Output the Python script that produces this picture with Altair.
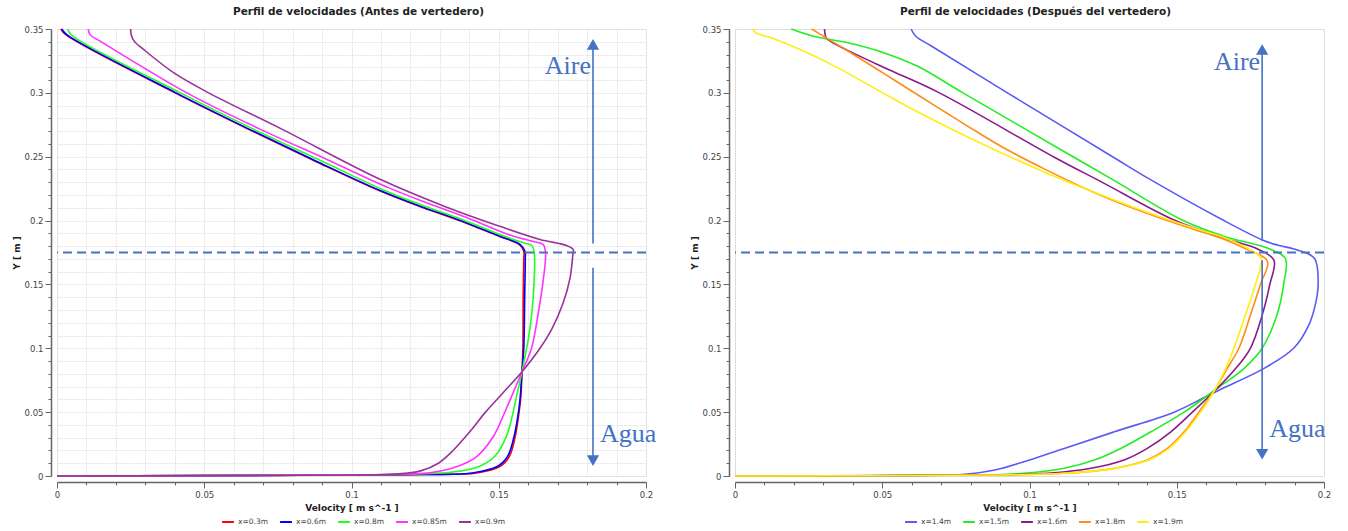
import altair as alt
import pandas as pd

FONT = "DejaVu Sans"
SERIF = "Liberation Serif"
NOTE_BLUE = "#4472c4"

# Axis tick positions
X_MAJOR = [0, 0.05, 0.1, 0.15, 0.2]
X_MINOR = [0, 0.01, 0.02, 0.03, 0.04, 0.05, 0.06, 0.07, 0.08, 0.09, 0.1,
           0.11, 0.12, 0.13, 0.14, 0.15, 0.16, 0.17, 0.18, 0.19, 0.2]
Y_MAJOR = [0, 0.05, 0.1, 0.15, 0.2, 0.25, 0.3, 0.35]
Y_MINOR = [0, 0.01, 0.02, 0.03, 0.04, 0.05, 0.06, 0.07, 0.08, 0.09, 0.1,
           0.11, 0.12, 0.13, 0.14, 0.15, 0.16, 0.17, 0.18, 0.19, 0.2, 0.21,
           0.22, 0.23, 0.24, 0.25, 0.26, 0.27, 0.28, 0.29, 0.3, 0.31, 0.32,
           0.33, 0.34, 0.35]

# Free-surface level
SURFACE_Y = 0.175

# ---------------- Antes de vertedero ----------------
LEFT_LABELS = ["x=0.3m", "x=0.6m", "x=0.8m", "x=0.85m", "x=0.9m"]
LEFT_COLORS = ["#ff0000", "#0000ff", "#22ff22", "#ff33ff", "#993399"]

Y_03 = [0.35, 0.3455, 0.30, 0.2714, 0.2465, 0.2235, 0.2115, 0.2003, 0.1878,
        0.1813, 0.176, 0.170, 0.140, 0.100, 0.0816, 0.062, 0.050, 0.031,
        0.0153, 0.0076, 0.0024, 0.0012, 0.0008, 0.0]
V_03 = [0.0013, 0.0030, 0.0401, 0.0651, 0.0877, 0.1094, 0.1227, 0.1364,
        0.1501, 0.1569, 0.1585, 0.1585, 0.1583, 0.1582, 0.1579, 0.1575,
        0.1569, 0.1556, 0.1536, 0.1505, 0.1425, 0.125, 0.10, 0.0]

Y_06 = [0.35, 0.3455, 0.30, 0.2714, 0.2465, 0.2235, 0.2115, 0.2003, 0.1878,
        0.1813, 0.176, 0.170, 0.140, 0.100, 0.0816, 0.062, 0.050, 0.031,
        0.0153, 0.0076, 0.0024, 0.0012, 0.0008, 0.0]
V_06 = [0.0016, 0.0033, 0.0404, 0.0654, 0.0880, 0.1097, 0.1230, 0.1367,
        0.1504, 0.1572, 0.1589, 0.1590, 0.1588, 0.1585, 0.1579, 0.1573,
        0.1567, 0.1552, 0.1530, 0.1496, 0.1410, 0.122, 0.10, 0.0]

Y_08 = [0.35, 0.3455, 0.30, 0.2714, 0.247, 0.2238, 0.212, 0.2008, 0.1885,
        0.1825, 0.1805, 0.176, 0.140, 0.114, 0.0816, 0.062, 0.050, 0.031,
        0.0153, 0.0077, 0.0031, 0.0012, 0.0008, 0.0]
V_08 = [0.0037, 0.0048, 0.0419, 0.0669, 0.0895, 0.1110, 0.1240, 0.1375,
        0.1510, 0.1585, 0.1612, 0.1620, 0.1617, 0.1605, 0.1579, 0.1560,
        0.1549, 0.1526, 0.1486, 0.1435, 0.1345, 0.115, 0.10, 0.0]

Y_085 = [0.35, 0.3456, 0.3403, 0.30, 0.2714, 0.2475, 0.2258, 0.2135, 0.2015,
         0.1885, 0.1832, 0.1813, 0.1743, 0.1534, 0.1273, 0.0999, 0.0816, 0.062,
         0.0497, 0.0307, 0.015, 0.0072, 0.0025, 0.0012, 0.0008, 0.0]
V_085 = [0.0106, 0.0112, 0.0148, 0.0441, 0.0691, 0.0920, 0.1125, 0.1260,
         0.1400, 0.1540, 0.1625, 0.1651, 0.1659, 0.1651, 0.1634, 0.1611,
         0.1579, 0.1543, 0.1520, 0.1481, 0.1424, 0.1356, 0.1266, 0.11, 0.095,
         0.0]

Y_09 = [0.35, 0.3455, 0.3405, 0.334, 0.3156, 0.30, 0.2714, 0.2323, 0.2105,
        0.1955, 0.1852, 0.1805, 0.1773, 0.1743, 0.155, 0.135, 0.115, 0.10,
        0.0816, 0.065, 0.05, 0.035, 0.02, 0.01, 0.004, 0.0015, 0.0008, 0.0]
V_09 = [0.0250, 0.0252, 0.0262, 0.0294, 0.0397, 0.0515, 0.0765, 0.1097,
        0.1323, 0.1504, 0.1640, 0.1730, 0.1753, 0.1752, 0.1742, 0.1718,
        0.1680, 0.1640, 0.1579, 0.1514, 0.1455, 0.1403, 0.1345, 0.1295,
        0.1235, 0.1150, 0.10, 0.0]

# ---------------- Después del vertedero ----------------
RIGHT_LABELS = ["x=1.4m", "x=1.5m", "x=1.6m", "x=1.8m", "x=1.9m"]
RIGHT_COLORS = ["#5a5af5", "#22ee22", "#8b1a8b", "#ff8c1a", "#ffee11"]

Y_14 = [0.35, 0.3443, 0.3365, 0.30, 0.25, 0.2328, 0.20, 0.1846, 0.1807,
        0.1768, 0.1703, 0.1495, 0.1336, 0.118, 0.10, 0.0841, 0.0685, 0.062,
        0.05, 0.0346, 0.0216, 0.0125, 0.0047, 0.0013, 0.0005, 0.0]
V_14 = [0.0598, 0.0614, 0.0668, 0.0925, 0.1282, 0.1405, 0.1660, 0.1793,
        0.1844, 0.1912, 0.1968, 0.1980, 0.1970, 0.1948, 0.1897, 0.1795,
        0.1655, 0.1598, 0.1491, 0.1288, 0.1118, 0.1000, 0.0882, 0.0780,
        0.06, 0.0]

Y_15 = [0.35, 0.3443, 0.339, 0.3313, 0.3208, 0.30, 0.25, 0.2328, 0.20,
        0.188, 0.1777, 0.1703, 0.15, 0.1258, 0.10, 0.0841, 0.0685, 0.05,
        0.0346, 0.0216, 0.0125, 0.006, 0.0021, 0.0008, 0.0]
V_15 = [0.0191, 0.0267, 0.0387, 0.0507, 0.0620, 0.0774, 0.1148, 0.1277,
        0.1522, 0.1656, 0.1816, 0.1869, 0.1863, 0.1840, 0.1790, 0.1728,
        0.1637, 0.1525, 0.1412, 0.1310, 0.1220, 0.1118, 0.0980, 0.08, 0.0]

Y_16 = [0.35, 0.343, 0.339, 0.3313, 0.3183, 0.30, 0.25, 0.2303, 0.20,
        0.1855, 0.1776, 0.169, 0.15, 0.1258, 0.10, 0.0841, 0.0685, 0.05,
        0.0346, 0.0216, 0.0125, 0.006, 0.0021, 0.0008, 0.0]
V_16 = [0.0304, 0.0310, 0.0334, 0.0400, 0.0521, 0.0694, 0.1081, 0.1244,
        0.1495, 0.1669, 0.1776, 0.1830, 0.1816, 0.1790, 0.1750, 0.1700,
        0.1637, 0.1553, 0.1480, 0.1400, 0.1321, 0.1209, 0.1062, 0.085, 0.0]

Y_18 = [0.35, 0.3458, 0.332, 0.3158, 0.2985, 0.284, 0.2697, 0.256, 0.2405,
        0.224, 0.2098, 0.1975, 0.19, 0.1858, 0.1777, 0.1682, 0.15, 0.1258,
        0.10, 0.0841, 0.0685, 0.05, 0.0346, 0.0216, 0.0125, 0.006, 0.0021,
        0.0008, 0.0]
V_18 = [0.0260, 0.0290, 0.0389, 0.0501, 0.0620, 0.0720, 0.0820, 0.0920,
        0.1050, 0.1200, 0.1350, 0.1500, 0.1600, 0.1656, 0.1736, 0.1808,
        0.1784, 0.1750, 0.1711, 0.1671, 0.1632, 0.1575, 0.1525, 0.1468,
        0.1400, 0.1288, 0.1118, 0.09, 0.0]

Y_19 = [0.35, 0.3469, 0.3425, 0.3235, 0.30, 0.2875, 0.2699, 0.2535, 0.2381,
        0.2239, 0.2107, 0.1985, 0.1911, 0.1871, 0.177, 0.1703, 0.15, 0.1258,
        0.10, 0.0841, 0.0685, 0.05, 0.0346, 0.0216, 0.0125, 0.006, 0.0021,
        0.0008, 0.0]
V_19 = [0.0058, 0.0072, 0.0130, 0.0317, 0.0501, 0.0600, 0.0750, 0.0900,
        0.1050, 0.1200, 0.1350, 0.1500, 0.1600, 0.1656, 0.1750, 0.1787,
        0.1767, 0.1733, 0.1694, 0.1666, 0.1632, 0.1581, 0.1530, 0.1474,
        0.1406, 0.1288, 0.1118, 0.09, 0.0]


def profiles(labels, vs, ys):
    rows = []
    for lab, v, y in zip(labels, vs, ys):
        for i, (a, b) in enumerate(zip(v, y)):
            rows.append({"serie": lab, "v": a, "y": b, "i": i})
    return pd.DataFrame(rows)


def panel(df, labels, colors, title, arrow_x, aire_y, agua_y,
          up_from, up_to, down_from, down_to, minor_grid, legend_x, title_dx):
    xs = alt.Scale(domain=[0, 0.2], nice=False, zero=False)
    ys = alt.Scale(domain=[0, 0.35], nice=False, zero=False)

    tick_style = dict(tickColor="#666", domainColor="#666", offset=6,
                      labelFont=FONT, titleFont=FONT)

    # minor ticks and the light minor grid
    minor = alt.Chart(df).mark_line(strokeOpacity=0).encode(
        x=alt.X("v:Q", scale=xs, axis=alt.Axis(
            values=X_MINOR, labels=False, title=None, tickSize=3, domain=False,
            grid=minor_grid, gridColor="#e4e4e4", gridDash=[2, 1],
            orient="bottom", **tick_style)),
        y=alt.Y("y:Q", scale=ys, axis=alt.Axis(
            values=Y_MINOR, labels=False, title=None, tickSize=3, domain=False,
            grid=minor_grid, gridColor="#e4e4e4", gridDash=[2, 1],
            orient="left", **tick_style)),
        detail="serie:N",
        order="i:Q",
    )

    lines = alt.Chart(df).mark_line(strokeWidth=1.6, interpolate="catmull-rom").encode(
        x=alt.X("v:Q", scale=xs, axis=alt.Axis(
            values=X_MAJOR, format="~g", title="Velocity [ m s^-1 ]",
            orient="bottom", tickSize=6, domainWidth=1.5, labelFontSize=8.5,
            labelColor="#444", labelFlush=False, titleFontSize=9,
            titleFontWeight="bold", titleColor="#222", titlePadding=5,
            gridColor="#c4c4c4", gridDash=[1, 1], **tick_style)),
        y=alt.Y("y:Q", scale=ys, axis=alt.Axis(
            values=Y_MAJOR, format="~g", title="Y [ m ]", orient="left",
            tickSize=6, domainWidth=1.5, labelFontSize=8.5, labelColor="#444",
            labelFlush=False, titleFontSize=9, titleFontWeight="bold",
            titleColor="#222", titlePadding=3, gridColor="#c4c4c4",
            gridDash=[1, 1], **tick_style)),
        color=alt.Color("serie:N", scale=alt.Scale(domain=labels, range=colors),
                        legend=alt.Legend(
                            orient="none", direction="horizontal", title=None,
                            legendX=legend_x, legendY=486, labelFontSize=7.5,
                            labelFont=FONT, labelColor="#444", symbolType="stroke",
                            symbolStrokeWidth=2, symbolSize=140, columnPadding=8,
                            labelOffset=3)),
        order="i:Q",
    )

    nx = alt.X("x:Q", scale=xs, axis=None)
    ny = alt.Y("y:Q", scale=ys, axis=None)

    surface = alt.Chart(pd.DataFrame({"y": [SURFACE_Y]})).mark_rule(
        color=NOTE_BLUE, strokeDash=[9, 5], strokeWidth=2
    ).encode(y=ny)

    shafts = alt.Chart(pd.DataFrame({
        "x": [arrow_x, arrow_x], "y": [up_from, down_from], "y2": [up_to, down_to]
    })).mark_rule(color=NOTE_BLUE, strokeWidth=1.6).encode(x=nx, y=ny, y2="y2:Q")

    head_up = alt.Chart(pd.DataFrame({"x": [arrow_x], "y": [up_to]})).mark_point(
        shape="triangle-up", filled=True, size=150, opacity=1, color=NOTE_BLUE
    ).encode(x=nx, y=ny)
    head_down = alt.Chart(pd.DataFrame({"x": [arrow_x], "y": [down_to]})).mark_point(
        shape="triangle-down", filled=True, size=150, opacity=1, color=NOTE_BLUE
    ).encode(x=nx, y=ny)

    aire = alt.Chart(pd.DataFrame({"x": [arrow_x], "y": [aire_y], "t": ["Aire"]})).mark_text(
        font=SERIF, fontSize=26, color=NOTE_BLUE, align="right", baseline="middle", dx=-2
    ).encode(x=nx, y=ny, text="t:N")
    agua = alt.Chart(pd.DataFrame({"x": [arrow_x], "y": [agua_y], "t": ["Agua"]})).mark_text(
        font=SERIF, fontSize=26, color=NOTE_BLUE, align="left", baseline="middle", dx=7
    ).encode(x=nx, y=ny, text="t:N")

    return alt.layer(minor, lines, surface, shafts, head_up, head_down, aire, agua).resolve_axis(
        x="independent", y="independent"
    ).properties(
        width=589, height=447,
        title=alt.TitleParams(title, font=FONT, fontSize=10.5, fontWeight="bold",
                              color="#222", anchor="middle", frame="group",
                              dx=title_dx, offset=8),
    )


left_df = profiles(LEFT_LABELS, [V_03, V_06, V_08, V_085, V_09],
                   [Y_03, Y_06, Y_08, Y_085, Y_09])
right_df = profiles(RIGHT_LABELS, [V_14, V_15, V_16, V_18, V_19],
                    [Y_14, Y_15, Y_16, Y_18, Y_19])

left = panel(left_df, LEFT_LABELS, LEFT_COLORS,
             "Perfil de velocidades (Antes de vertedero)",
             arrow_x=0.182, aire_y=0.321, agua_y=0.033,
             up_from=0.182, up_to=0.338, down_from=0.163, down_to=0.012,
             minor_grid=True, legend_x=164, title_dx=7)
right = panel(right_df, RIGHT_LABELS, RIGHT_COLORS,
              "Perfil de velocidades (Después del vertedero)",
              arrow_x=0.179, aire_y=0.324, agua_y=0.037,
              up_from=0.184, up_to=0.334, down_from=0.169, down_to=0.017,
              minor_grid=False, legend_x=169, title_dx=6)

chart = alt.hconcat(left, right, spacing=32).resolve_scale(
    color="independent"
).properties(
    padding={"left": 11, "top": 6, "right": 5, "bottom": 5}
).configure_view(stroke=None).configure(background="white")

chart.save("out.html", embed_options={"renderer": "svg", "actions": False})
